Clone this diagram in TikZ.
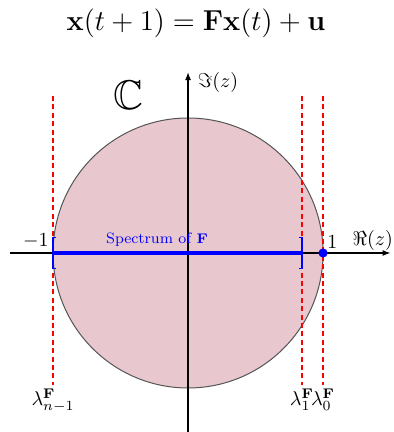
\documentclass[tikz,border=0pt]{standalone}
\usepackage{amsmath,amssymb,amsfonts}
\usepackage{xcolor}
\usepackage{tikz}
\usetikzlibrary{calc,arrows.meta,positioning}
\definecolor{diskPink}{RGB}{232,200,206}
\definecolor{diskEdge}{RGB}{85,85,85}
\definecolor{specBlue}{RGB}{0,0,255}
\definecolor{eigRed}{RGB}{255,0,0}
\tikzset{
  axisline/.style={black, line width=0.6pt, -{Latex[length=4pt,width=3pt]}},
  eigline/.style={eigRed, line width=0.8pt, dash pattern=on 2.5pt off 1.7pt},
  bracketline/.style={specBlue, line width=0.6pt}
}
\begin{document}
\begin{tikzpicture}[x=2.37cm,y=2.37cm]
\useasboundingbox (-1.393,-1.326) rectangle (1.519,1.874);
\node (title) at (0.059,1.704) {\fontsize{15.1}{18}\selectfont $\mathbf{x}(t+1)=\mathbf{F}\mathbf{x}(t)+\mathbf{u}$};
% unit disk
\fill[diskPink] (0,0) circle (1);
\draw[diskEdge, line width=0.5pt] (0,0) circle (1);
% axes
\coordinate (reS) at (-1.32,0);
\coordinate (reE) at (1.5,0);
\coordinate (imS) at (0,-1.33);
\coordinate (imE) at (0,1.34);
\draw[axisline] (reS) -- (reE);
\draw[axisline] (imS) -- (imE);
\node (imlab) at (0.222,1.262) {$\Im(z)$};
\node (relab) at (1.368,0.096) {$\Re(z)$};
\node (cset) at (-0.444,1.17) {\huge $\mathbb{C}$};
% eigenvalues
\coordinate (lamNt) at (-1,1.163);
\coordinate (lamNb) at (-1,-0.978);
\coordinate (lamOt) at (0.844,1.163);
\coordinate (lamOb) at (0.844,-0.978);
\coordinate (lamZt) at (1,1.163);
\coordinate (lamZb) at (1,-0.978);
\draw[eigline] (lamNt) -- (lamNb) node[below, black, inner sep=1.5pt] (lamN) {$\lambda^{\mathbf{F}}_{n-1}$};
\draw[eigline] (lamOt) -- (lamOb) node[below, black, inner sep=1.5pt] (lamO) {$\lambda^{\mathbf{F}}_{1}$};
\draw[eigline] (lamZt) -- (lamZb) node[below, black, inner sep=1.5pt] (lamZ) {$\lambda^{\mathbf{F}}_{0}$};
% spectrum
\coordinate (specL) at (-1,0);
\coordinate (specR) at (0.844,0);
\draw[specBlue, line width=2.2pt] (specL) -- (specR);
\draw[bracketline] ($(specL)+(0.025,0.115)$) -- ($(specL)+(0,0.115)$) -- ($(specL)+(0,-0.115)$) -- ($(specL)+(0.025,-0.115)$);
\draw[bracketline] ($(specR)+(-0.025,0.115)$) -- ($(specR)+(0,0.115)$) -- ($(specR)+(0,-0.115)$) -- ($(specR)+(-0.025,-0.115)$);
\node[text=specBlue] (speclab) at (-0.23,0.096) {\fontsize{7.5}{9}\selectfont Spectrum of $\mathbf{F}$};
\fill[specBlue] (1,0) circle (2.3pt);
\node[above left, inner sep=2pt] (mone) at (specL) {$-1$};
\node[above right, inner sep=2pt] (one) at (1,0) {$1$};
\end{tikzpicture}
\end{document}
